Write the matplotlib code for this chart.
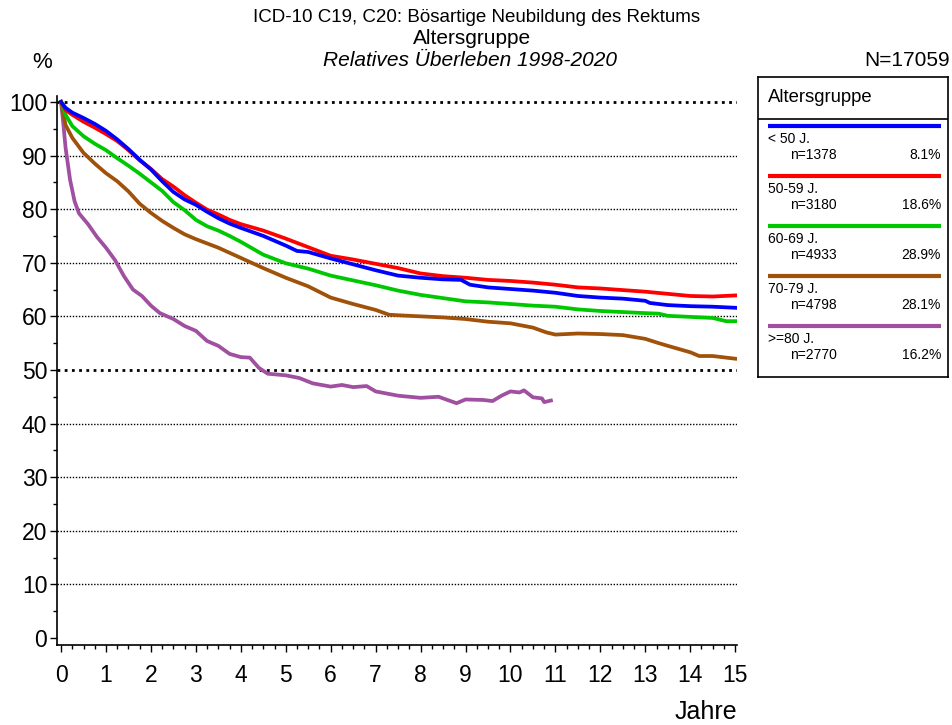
import matplotlib
matplotlib.use("Agg")
import matplotlib.pyplot as plt
from matplotlib.ticker import MultipleLocator

plt.rcParams['font.family'] = ['Liberation Sans', 'DejaVu Sans']

groups = ['< 50 J.', '50-59 J.', '60-69 J.', '70-79 J.', '>=80 J.']
counts = ['n=1378', 'n=3180', 'n=4933', 'n=4798', 'n=2770']
shares = ['8.1%', '18.6%', '28.9%', '28.1%', '16.2%']
colors = ['#0000ff', '#ff0000', '#00c800', '#a0520a', '#a050a0']

t_u50 = [0, 0.1, 0.25, 0.5, 0.75, 1, 1.25, 1.5, 1.75, 2, 2.25, 2.5, 2.75, 3, 3.25, 3.5, 3.75, 4,
         4.5, 5, 5.25, 5.5, 6, 6.5, 7, 7.5, 8, 8.5, 8.9, 9.1, 9.5, 10, 10.5, 11, 11.5, 12, 12.5,
         13, 13.1, 13.5, 14, 14.5, 15]
s_u50 = [100, 98.9, 98.0, 97.0, 95.9, 94.6, 93.0, 91.2, 89.2, 87.4, 85.2, 83.2, 81.8, 80.8, 79.5,
         78.3, 77.3, 76.5, 75.0, 73.2, 72.2, 72.0, 70.8, 69.7, 68.6, 67.6, 67.2, 66.9, 66.8, 65.9,
         65.4, 65.1, 64.8, 64.4, 63.8, 63.5, 63.3, 62.9, 62.5, 62.1, 61.9, 61.8, 61.6]

t_50 = [0, 0.1, 0.25, 0.5, 0.75, 1, 1.25, 1.5, 1.75, 2, 2.25, 2.5, 2.75, 3, 3.25, 3.5, 3.75, 4,
        4.5, 5, 5.5, 6, 6.5, 7, 7.5, 8, 8.5, 9, 9.5, 10, 10.5, 11, 11.5, 12, 12.5, 13, 13.5, 14,
        14.5, 15]
s_50 = [100, 98.5, 97.6, 96.3, 95.2, 94.0, 92.7, 91.0, 89.1, 87.5, 85.6, 84.2, 82.6, 81.2, 79.9,
        79.0, 78.0, 77.2, 76.0, 74.5, 72.9, 71.3, 70.6, 69.8, 69.0, 68.0, 67.5, 67.2, 66.8, 66.6,
        66.3, 65.9, 65.4, 65.2, 64.9, 64.6, 64.2, 63.8, 63.7, 63.9]

t_60 = [0, 0.1, 0.25, 0.5, 0.75, 1, 1.25, 1.5, 1.75, 2, 2.25, 2.5, 2.75, 3, 3.25, 3.5, 3.75, 4,
        4.5, 5, 5.5, 6, 6.5, 7, 7.5, 8, 8.5, 9, 9.5, 10, 10.5, 11, 11.5, 12, 12.5, 13, 13.3, 13.5,
        14, 14.5, 14.8, 15]
s_60 = [100, 97.6, 95.5, 93.6, 92.2, 91.0, 89.5, 88.1, 86.6, 85.0, 83.4, 81.3, 79.8, 78.0, 76.8,
        76.0, 75.0, 73.9, 71.5, 69.9, 68.9, 67.6, 66.7, 65.8, 64.8, 64.0, 63.4, 62.8, 62.6, 62.3,
        62.0, 61.8, 61.3, 61.0, 60.8, 60.6, 60.5, 60.1, 59.9, 59.7, 59.1, 59.1]

t_70 = [0, 0.1, 0.25, 0.5, 0.75, 1, 1.25, 1.5, 1.75, 2, 2.25, 2.5, 2.75, 3, 3.5, 4, 4.5, 5, 5.5,
        6, 6.5, 7, 7.3, 7.5, 8, 8.5, 9, 9.5, 10, 10.5, 10.8, 11, 11.5, 12, 12.5, 13, 13.3, 13.5,
        14, 14.2, 14.5, 15]
s_70 = [100, 95.7, 93.3, 90.5, 88.5, 86.7, 85.2, 83.3, 81.0, 79.3, 77.8, 76.5, 75.3, 74.4, 72.8,
        70.9, 69.0, 67.2, 65.6, 63.5, 62.3, 61.2, 60.3, 60.2, 60.0, 59.8, 59.5, 59.0, 58.7, 57.9,
        57.0, 56.6, 56.8, 56.7, 56.5, 55.8, 55.0, 54.5, 53.3, 52.6, 52.6, 52.1]

t_80 = [0, 0.05, 0.1, 0.2, 0.3, 0.4, 0.6, 0.8, 1, 1.2, 1.4, 1.6, 1.8, 2, 2.2, 2.5, 2.75, 3, 3.25,
        3.5, 3.75, 4, 4.2, 4.4, 4.6, 5, 5.3, 5.6, 6, 6.25, 6.5, 6.8, 7, 7.5, 8, 8.4, 8.8, 9, 9.4,
        9.6, 9.8, 10, 10.2, 10.3, 10.5, 10.7, 10.75, 10.9]
s_80 = [100, 96, 91.5, 85.5, 81.5, 79.2, 77.2, 74.8, 72.8, 70.5, 67.5, 65.0, 63.8, 62.0, 60.6,
        59.5, 58.2, 57.3, 55.4, 54.5, 53.0, 52.4, 52.3, 50.4, 49.3, 49.0, 48.5, 47.5, 46.9, 47.2,
        46.8, 47.0, 46.0, 45.2, 44.8, 45.0, 43.8, 44.5, 44.4, 44.2, 45.2, 46.0, 45.8, 46.2, 44.9,
        44.7, 44.0, 44.3]

series = [(t_u50, s_u50), (t_50, s_50), (t_60, s_60), (t_70, s_70), (t_80, s_80)]

W, H = 953, 725
fig = plt.figure(figsize=(W / 100, H / 100), dpi=100)

ax = fig.add_axes([57 / W, 1 - 645 / H, 680 / W, 549 / H])
ax.set_xlim(-0.09, 15.04)
ax.set_ylim(-1.3, 101.1)

for y in range(10, 101, 10):
    bold = y in (50, 100)
    ax.axhline(y, color='black', lw=2.0 if bold else 1.0, ls=(0, (1, 1.6)) if bold else (0, (1, 1.2)),
               zorder=1)

# draw oldest group first so the younger ones sit on top
for (t, s), c in reversed(list(zip(series, colors))):
    ax.plot(t, s, color=c, lw=2.7, solid_joinstyle='round', zorder=3)

for side in ('top', 'right'):
    ax.spines[side].set_visible(False)
ax.spines['left'].set_linewidth(1.2)
ax.spines['bottom'].set_linewidth(1.2)

ax.xaxis.set_major_locator(MultipleLocator(1))
ax.xaxis.set_minor_locator(MultipleLocator(0.25))
ax.yaxis.set_major_locator(MultipleLocator(10))
ax.yaxis.set_minor_locator(MultipleLocator(5))
ax.tick_params(axis='both', which='major', labelsize=16.5, width=1, length=5, direction='out')
ax.tick_params(axis='both', which='minor', width=1, length=3, direction='out')
ax.tick_params(axis='x', which='major', pad=9)
ax.tick_params(axis='y', which='major', pad=2)

fig.text(477 / W, 1 - 17 / H, 'ICD-10 C19, C20: Bösartige Neubildung des Rektums',
         ha='center', va='center', fontsize=13.5)
fig.text(472 / W, 1 - 38 / H, 'Altersgruppe', ha='center', va='center', fontsize=15)
fig.text(470 / W, 1 - 61 / H, 'Relatives Überleben 1998-2020', ha='center', va='center',
         fontsize=15, style='italic')
fig.text(42 / W, 1 - 62 / H, '%', ha='center', va='center', fontsize=16)
fig.text(950 / W, 1 - 61 / H, 'N=17059', ha='right', va='center', fontsize=15)
fig.text(737 / W, 1 - 712 / H, 'Jahre', ha='right', va='center', fontsize=18)

# legend box, coordinates in pixels from its top-left corner
lg = fig.add_axes([758 / W, 1 - 377 / H, 190 / W, 300 / H])
lg.set_xlim(0, 190)
lg.set_ylim(300, 0)
lg.set_xticks([])
lg.set_yticks([])
for sp in lg.spines.values():
    sp.set_linewidth(1.2)
lg.text(10, 20, 'Altersgruppe', va='center', fontsize=13.3)
lg.axhline(42, color='black', lw=1.2)
for i, (g, n, p, c) in enumerate(zip(groups, counts, shares, colors)):
    y0 = 49 + 50 * i
    lg.plot([10, 183], [y0, y0], color=c, lw=3, solid_capstyle='butt')
    lg.text(10, y0 + 13, g, va='center', fontsize=10)
    lg.text(32, y0 + 29, n, va='center', fontsize=10)
    lg.text(183, y0 + 29, p, va='center', ha='right', fontsize=10)

fig.savefig('out.png', dpi=100)
